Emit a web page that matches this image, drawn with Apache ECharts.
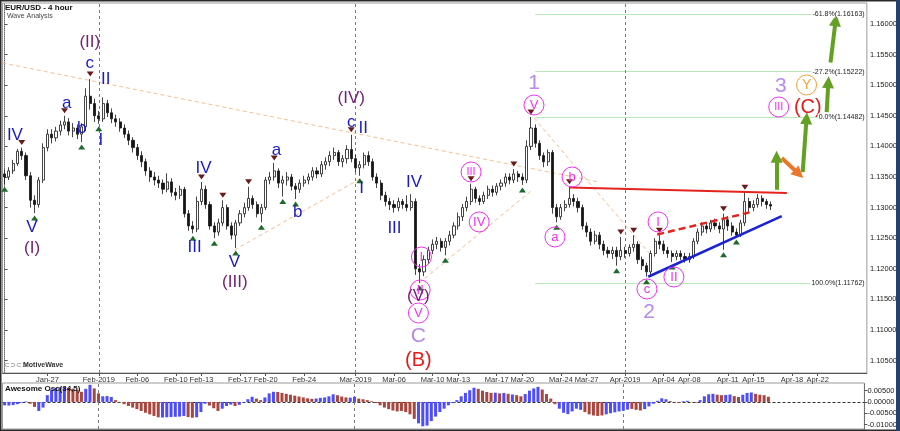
<!DOCTYPE html>
<html><head><meta charset="utf-8">
<script src="https://cdn.jsdelivr.net/npm/echarts@6/dist/echarts.min.js"></script>
<style>html,body{margin:0;padding:0;background:#fff}#c{width:900px;height:431px}</style>
</head><body><div id="c"></div>
<script>
// ---------- DATA ----------
const tradingDays = ['Jan-23','Jan-24','Jan-25','Jan-28','Jan-29','Jan-30','Jan-31','Feb-01','Feb-04','Feb-05','Feb-06','Feb-07','Feb-08','Feb-11','Feb-12','Feb-13','Feb-14','Feb-15','Feb-18','Feb-19','Feb-20','Feb-21','Feb-22','Feb-25','Feb-26','Feb-27','Feb-28','Mar-01','Mar-04','Mar-05','Mar-06','Mar-07','Mar-08','Mar-11','Mar-12','Mar-13','Mar-14','Mar-15','Mar-18','Mar-19','Mar-20','Mar-21','Mar-22','Mar-25','Mar-26','Mar-27','Mar-28','Mar-29','Apr-01','Apr-02','Apr-03','Apr-04','Apr-05','Apr-08','Apr-09','Apr-10','Apr-11','Apr-12','Apr-15','Apr-16','Apr-17','Apr-18','Apr-19','Apr-22','Apr-23','Apr-24','Apr-25'];
const sessionHours = ['00:00','08:00','16:00'];
const firstSlot = 'Jan-22 16:00';

const dateTickSlots = ['Jan-28 00:00','Feb-01 00:00','Feb-06 00:00','Feb-11 00:00','Feb-13 00:00','Feb-18 00:00','Feb-20 00:00','Feb-25 00:00','Mar-01 00:00','Mar-06 00:00','Mar-11 00:00','Mar-13 00:00','Mar-18 00:00','Mar-20 00:00','Mar-25 00:00','Mar-27 00:00','Apr-01 00:00','Apr-04 00:00','Apr-08 00:00','Apr-11 00:00','Apr-15 00:00','Apr-18 00:00','Apr-22 00:00'];
const dateTickTexts = ['Jan-27','Feb-2019','Feb-06','Feb-10','Feb-13','Feb-17','Feb-20','Feb-24','Mar-2019','Mar-06','Mar-10','Mar-13','Mar-17','Mar-20','Mar-24','Mar-27','Apr-2019','Apr-04','Apr-08','Apr-11','Apr-15','Apr-18','Apr-22'];
const monthStartSlots = ['Feb-01 00:00','Mar-01 00:00','Apr-01 00:00'];

const priceTicks = [1.105,1.11,1.115,1.12,1.125,1.13,1.135,1.14,1.145,1.15,1.155,1.16];
const aoTicks = [0.005,0,-0.005,-0.01];

// 8-hour candles: [open, close, low, high]
const ohlc = [
[1.1355,1.1350,1.1338,1.1362],[1.1350,1.1360,1.1345,1.1366],[1.1360,1.1372,1.1355,1.1378],[1.1372,1.1392,1.1368,1.1396],[1.1392,1.1385,1.1378,1.1398],
[1.1385,1.1352,1.1345,1.1390],[1.1352,1.1312,1.1300,1.1358],[1.1312,1.1305,1.1291,1.1320],[1.1305,1.1345,1.1300,1.1350],[1.1345,1.1398,1.1340,1.1405],
[1.1398,1.1420,1.1392,1.1428],[1.1420,1.1414,1.1405,1.1428],[1.1414,1.1425,1.1408,1.1432],[1.1425,1.1435,1.1418,1.1442],[1.1435,1.1440,1.1428,1.1450],
[1.1440,1.1425,1.1418,1.1446],[1.1425,1.1430,1.1415,1.1438],[1.1430,1.1420,1.1412,1.1436],[1.1420,1.1432,1.1407,1.1438],[1.1432,1.1482,1.1425,1.1495],
[1.1482,1.1470,1.1460,1.1510],[1.1470,1.1450,1.1440,1.1478],[1.1450,1.1445,1.1437,1.1458],[1.1445,1.1470,1.1440,1.1480],[1.1470,1.1455,1.1448,1.1476],
[1.1455,1.1445,1.1438,1.1462],[1.1445,1.1440,1.1432,1.1452],[1.1440,1.1430,1.1424,1.1446],[1.1430,1.1420,1.1414,1.1436],[1.1420,1.1410,1.1402,1.1426],
[1.1410,1.1398,1.1390,1.1415],[1.1398,1.1385,1.1378,1.1404],[1.1385,1.1375,1.1366,1.1392],[1.1375,1.1360,1.1352,1.1380],[1.1360,1.1350,1.1342,1.1366],
[1.1350,1.1345,1.1336,1.1358],[1.1345,1.1340,1.1332,1.1352],[1.1340,1.1330,1.1322,1.1346],[1.1330,1.1342,1.1325,1.1356],[1.1342,1.1325,1.1318,1.1348],
[1.1325,1.1320,1.1312,1.1332],[1.1320,1.1330,1.1314,1.1336],[1.1330,1.1290,1.1284,1.1334],[1.1290,1.1270,1.1262,1.1296],[1.1270,1.1265,1.1258,1.1278],
[1.1265,1.1310,1.1260,1.1318],[1.1310,1.1330,1.1304,1.1342],[1.1330,1.1305,1.1298,1.1336],[1.1305,1.1270,1.1264,1.1310],[1.1270,1.1260,1.1250,1.1276],
[1.1260,1.1275,1.1254,1.1282],[1.1275,1.1300,1.1270,1.1312],[1.1300,1.1270,1.1264,1.1305],[1.1270,1.1255,1.1248,1.1276],[1.1255,1.1275,1.1234,1.1280],
[1.1275,1.1290,1.1270,1.1296],[1.1290,1.1300,1.1284,1.1308],[1.1300,1.1315,1.1295,1.1334],[1.1315,1.1305,1.1298,1.1320],[1.1305,1.1290,1.1284,1.1310],
[1.1290,1.1300,1.1276,1.1306],[1.1300,1.1345,1.1296,1.1350],[1.1345,1.1350,1.1338,1.1358],[1.1350,1.1360,1.1344,1.1373],[1.1360,1.1340,1.1332,1.1364],
[1.1340,1.1345,1.1318,1.1352],[1.1345,1.1350,1.1336,1.1358],[1.1350,1.1335,1.1328,1.1355],[1.1335,1.1330,1.1314,1.1340],[1.1330,1.1340,1.1324,1.1346],
[1.1340,1.1345,1.1334,1.1352],[1.1345,1.1350,1.1338,1.1356],[1.1350,1.1360,1.1344,1.1366],[1.1360,1.1355,1.1348,1.1366],[1.1355,1.1370,1.1350,1.1376],
[1.1370,1.1375,1.1362,1.1382],[1.1375,1.1385,1.1368,1.1392],[1.1385,1.1390,1.1378,1.1398],[1.1390,1.1375,1.1368,1.1394],[1.1375,1.1380,1.1366,1.1386],
[1.1380,1.1395,1.1372,1.1402],[1.1395,1.1380,1.1374,1.1419],[1.1380,1.1365,1.1358,1.1386],[1.1365,1.1370,1.1352,1.1376],[1.1370,1.1385,1.1364,1.1390],
[1.1385,1.1375,1.1368,1.1392],[1.1375,1.1350,1.1344,1.1380],[1.1350,1.1340,1.1332,1.1356],[1.1340,1.1320,1.1312,1.1345],[1.1320,1.1310,1.1302,1.1326],
[1.1310,1.1305,1.1296,1.1316],[1.1305,1.1300,1.1292,1.1312],[1.1300,1.1310,1.1294,1.1316],[1.1310,1.1305,1.1298,1.1314],[1.1305,1.1300,1.1294,1.1320],
[1.1300,1.1310,1.1295,1.1322],[1.1310,1.1200,1.1190,1.1315],[1.1200,1.1195,1.1177,1.1208],[1.1195,1.1215,1.1188,1.1222],[1.1215,1.1230,1.1208,1.1236],
[1.1230,1.1240,1.1224,1.1248],[1.1240,1.1245,1.1232,1.1252],[1.1245,1.1235,1.1228,1.1250],[1.1235,1.1245,1.1222,1.1250],[1.1245,1.1255,1.1238,1.1262],
[1.1255,1.1270,1.1250,1.1276],[1.1270,1.1285,1.1264,1.1292],[1.1285,1.1300,1.1278,1.1306],[1.1300,1.1310,1.1294,1.1318],[1.1310,1.1330,1.1304,1.1339],
[1.1330,1.1315,1.1308,1.1334],[1.1315,1.1310,1.1304,1.1320],[1.1310,1.1320,1.1306,1.1326],[1.1320,1.1330,1.1314,1.1336],[1.1330,1.1325,1.1318,1.1336],
[1.1325,1.1335,1.1320,1.1340],[1.1335,1.1340,1.1328,1.1346],[1.1340,1.1350,1.1334,1.1356],[1.1350,1.1345,1.1338,1.1356],[1.1345,1.1355,1.1340,1.1363],
[1.1355,1.1350,1.1342,1.1360],[1.1350,1.1345,1.1337,1.1356],[1.1345,1.1400,1.1340,1.1410],[1.1400,1.1430,1.1394,1.1448],[1.1430,1.1405,1.1398,1.1436],
[1.1405,1.1385,1.1378,1.1410],[1.1385,1.1375,1.1366,1.1390],[1.1375,1.1390,1.1368,1.1395],[1.1390,1.1300,1.1290,1.1394],[1.1300,1.1285,1.1276,1.1306],
[1.1285,1.1300,1.1280,1.1306],[1.1300,1.1305,1.1294,1.1312],[1.1305,1.1315,1.1300,1.1334],[1.1315,1.1310,1.1302,1.1322],[1.1310,1.1300,1.1292,1.1316],
[1.1300,1.1270,1.1264,1.1305],[1.1270,1.1260,1.1252,1.1276],[1.1260,1.1245,1.1238,1.1266],[1.1245,1.1255,1.1240,1.1262],[1.1255,1.1240,1.1232,1.1260],
[1.1240,1.1230,1.1222,1.1246],[1.1230,1.1225,1.1218,1.1236],[1.1225,1.1230,1.1216,1.1236],[1.1230,1.1220,1.1205,1.1236],[1.1220,1.1230,1.1214,1.1252],
[1.1230,1.1225,1.1218,1.1236],[1.1225,1.1235,1.1220,1.1240],[1.1235,1.1240,1.1228,1.1255],[1.1240,1.1215,1.1208,1.1245],[1.1215,1.1205,1.1198,1.1220],
[1.1205,1.1195,1.1187,1.1210],[1.1195,1.1225,1.1190,1.1230],[1.1225,1.1245,1.1220,1.1250],[1.1245,1.1240,1.1232,1.1255],[1.1240,1.1230,1.1224,1.1246],
[1.1230,1.1225,1.1218,1.1236],[1.1225,1.1220,1.1211,1.1230],[1.1220,1.1225,1.1214,1.1230],[1.1225,1.1220,1.1214,1.1230],[1.1220,1.1215,1.1210,1.1226],
[1.1215,1.1220,1.1210,1.1226],[1.1220,1.1245,1.1216,1.1250],[1.1245,1.1260,1.1240,1.1266],[1.1260,1.1270,1.1254,1.1276],[1.1270,1.1265,1.1258,1.1276],
[1.1265,1.1275,1.1260,1.1280],[1.1275,1.1270,1.1264,1.1282],[1.1270,1.1265,1.1258,1.1276],[1.1265,1.1280,1.1231,1.1290],[1.1280,1.1270,1.1262,1.1286],
[1.1270,1.1260,1.1254,1.1276],[1.1260,1.1255,1.1252,1.1266],[1.1255,1.1275,1.1252,1.1280],[1.1275,1.1310,1.1270,1.1325],[1.1310,1.1300,1.1292,1.1316],
[1.1300,1.1305,1.1294,1.1312],[1.1305,1.1315,1.1300,1.1322],[1.1315,1.1310,1.1302,1.1320],[1.1310,1.1305,1.1298,1.1314],[1.1305,1.13025,1.1296,1.1310]
];

// Awesome Oscillator (34,5), one value per 8-hour slot
const aoValues = [
-0.0015,-0.0016,-0.0014,-0.0010,-0.0003,0.0002,-0.0008,-0.0022,-0.0040,-0.0025,
0.0030,0.0055,0.0062,0.0065,0.0067,0.0062,0.0059,0.0054,0.0045,0.0058,
0.0076,0.0060,0.0038,0.0025,0.0026,0.0022,0.0008,-0.0002,-0.0010,-0.0018,
-0.0025,-0.0032,-0.0040,-0.0048,-0.0055,-0.0062,-0.0068,-0.0069,-0.0068,-0.0067,
-0.0066,-0.0065,-0.0062,-0.0067,-0.0070,-0.0068,-0.0045,-0.0008,-0.0016,-0.0028,
-0.0040,-0.0030,-0.0018,-0.0012,-0.0018,-0.0013,-0.0002,0.0012,0.0023,0.0015,
0.0008,0.0020,0.0038,0.0045,0.0044,0.0040,0.0036,0.0032,0.0028,0.0024,
0.0020,0.0016,0.0014,0.0015,0.0018,0.0020,0.0025,0.0034,0.0030,0.0024,
0.0020,0.0019,0.0023,0.0015,0.0012,0.0008,0.0003,-0.0005,-0.0015,-0.0025,
-0.0032,-0.0038,-0.0042,-0.0040,-0.0045,-0.0055,-0.0075,-0.0095,-0.0108,-0.0105,
-0.0085,-0.0065,-0.0045,-0.0030,-0.0015,-0.0005,0.0008,0.0025,0.0040,0.0052,
0.0063,0.0058,0.0050,0.0044,0.0040,0.0041,0.0038,0.0040,0.0036,0.0033,
0.0030,0.0025,0.0035,0.0050,0.0060,0.0067,0.0055,0.0035,0.0015,-0.0010,
-0.0030,-0.0048,-0.0054,-0.0042,-0.0030,-0.0035,-0.0045,-0.0055,-0.0060,-0.0062,
-0.0060,-0.0055,-0.0050,-0.0046,-0.0042,-0.0039,-0.0034,-0.0031,-0.0035,-0.0038,
-0.0032,-0.0020,-0.0008,0.0005,0.0016,0.0012,0.0004,-0.0002,-0.0004,0.0003,
0.0005,-0.0001,-0.0003,0.0008,0.0025,0.0034,0.0036,0.0032,0.0030,0.0031,
0.0033,0.0026,0.0022,0.0032,0.0040,0.0042,0.0036,0.0032,0.0030,0.0023
];
// bar colour per slot as seen in the picture: b = blue, r = brown-red
const aoColorCodes = 'bbbbbb'+'rr'+'bb'+'bbbbb'+'rrrr'+'bb'+'rr'+'bbb'+'rrrrrrrrrrr'+'bbbbbb'+'rr'+'bbb'+'rrr'+'bbb'+'r'+'bbbb'+'rr'+'bbb'+'rrrrrrrrr'+'bbbbb'+'rrr'+'bb'+'rrrrrrrrrrrrrr'+'bbbbbbbbbbbbbb'+'rrrr'+'brbrbrr'+'bbbb'+'rrrr'+'bbbbbb'+'rrrrr'+'bbbbbb'+'rrr'+'bbbbbb'+'rrr'+'bb'+'rr'+'bbbb'+'rr'+'bb'+'rr'+'bbb'+'rrrr';

// pivot markers [slot, price]
const pivotHighs = [[4,1.1398],[14,1.1450],[20,1.1510],[46,1.1342],[51,1.1312],[57,1.1334],[63,1.1373],[81,1.1419],[109,1.1339],[119,1.1363],[123,1.1448],[132,1.1334],[144,1.1252],[147,1.1255],[153,1.1255],[168,1.1290],[173,1.1325]];
const pivotLows = [[0,1.1338],[7,1.1291],[18,1.1407],[22,1.1437],[44,1.1258],[49,1.1250],[54,1.1234],[60,1.1276],[65,1.1318],[68,1.1314],[83,1.1352],[97,1.1177],[103,1.1222],[121,1.1337],[129,1.1276],[143,1.1205],[150,1.1187],[156,1.1211],[168,1.1231],[171,1.1252]];

// wave labels [slot position, price, text]
const purpleLabels = [[19.9,1.15706,'(II)'],[6.4,1.1234,'(I)'],[53.8,1.11784,'(III)'],[81.0,1.14791,'(IV)'],[96.7,1.11557,'(V)']];
const blueLabels = [[2.4,1.14186,'IV'],[6.4,1.12683,'V'],[14.5,1.14709,'a'],[18.0,1.14301,'b'],[19.9,1.15363,'c'],[23.6,1.15101,'II'],[22.5,1.14105,'I'],[44.4,1.12356,'III'],[46.5,1.13647,'IV'],[53.7,1.12111,'V'],[63.5,1.13941,'a'],[68.5,1.12928,'b'],[81.0,1.14399,'c'],[83.8,1.14301,'II'],[83.4,1.1332,'I'],[91.1,1.12667,'III'],[95.7,1.13418,'IV']];
const lavenderLabels = [[123.7,1.15036,'1'],[96.7,1.10902,'C'],[150.6,1.11294,'2'],[181.4,1.14987,'3']];
const redLabels = [[96.7,1.1051,'(B)'],[187.7,1.14644,'(C)']];
const circledMagenta = [[123.7,1.14676,'V'],[109.0,1.13582,'III'],[110.9,1.12765,'IV'],[97.4,1.12193,'I'],[97.1,1.11654,'II'],[96.7,1.11278,'V'],[128.6,1.1252,'a'],[132.6,1.135,'b'],[152.7,1.12765,'I'],[156.4,1.11866,'II'],[150.1,1.1167,'c'],[180.9,1.14644,'III']];
const circledOrange = [[187.4,1.15003,'Y']];

// drawn trend lines [[slot,price],[slot,price]]
const resistanceLine = [[132,1.1333],[182.8,1.1324]];
const dashedRedLine = [[152.5,1.1256],[174.6,1.1293]];
const supportLine = [[150.4,1.1187],[181.6,1.1286]];
const faintLines = [[[-0.5,1.15363],[138.9,1.13418]],[[53.7,1.12307],[83.4,1.13484]],[[96.9,1.11768],[123.3,1.13288]],[[123.7,1.14464],[150.6,1.12258]]];
const greenArrows = [[[180.4,1.1329],[180.4,1.1383]],[[186.5,1.1358],[187.4,1.1446]],[[192.1,1.1456],[192.5,1.1505]],[[193.0,1.1537],[194.2,1.1606]]];
const orangeArrows = [[[181.6,1.1381],[185.6,1.1355]]];

// Fibonacci levels
const fibLevels = [1.16163,1.15222,1.14482,1.11762];
const fibTexts = ['-61.8%(1.16163)','-27.2%(1.15222)','0.0%(1.14482)','100.0%(1.11762)'];
const fibStartSlot = 124;

// value tags on the price axis
const priceTags = [1.13025,1.12941,1.12780];
const aoTag = 0.00229;

// ---------- BUILD ----------
const categories = [firstSlot];
tradingDays.forEach(d => sessionHours.forEach(h => categories.push(d + ' ' + h)));
const N = categories.length;
const tickMap = {};
dateTickSlots.forEach((s, i) => { tickMap[s] = dateTickTexts[i]; });
const isTick = (idx, val) => tickMap[val] !== undefined;
const FF = 'Liberation Sans, Arial, sans-serif';
const BLUE_AO = '#4d4dff', RED_AO = '#a9473f';

function textSeries(list, color, size, extra) {
  const circ = extra && extra.circle;
  return {
    type: 'scatter', xAxisIndex: 1, yAxisIndex: 0, silent: true, z: 20, clip: false,
    symbolSize: circ ? 20 : 0,
    itemStyle: circ ? {color: 'rgba(255,255,255,0)', borderColor: color, borderWidth: 1, opacity: 1} : {color: 'rgba(0,0,0,0)', opacity: 1},
    data: list.map(d => ({value: [d[0], d[1]], label: {show: true, formatter: d[2], position: 'inside', color: color, opacity: 1, fontSize: (circ && d[2].length > 2) ? 11 : size, fontFamily: FF}}))
  };
}

const option = {
  animation: false,
  backgroundColor: '#ffffff',
  grid: [
    {left: 2.5, right: 32, top: 3, height: 370, show: true, borderColor: '#9a9a9a', borderWidth: 1, backgroundColor: '#fff'},
    {left: 2.5, right: 32, top: 383, height: 46, show: true, borderColor: '#9a9a9a', borderWidth: 1, backgroundColor: '#fff'}
  ],
  xAxis: [
    {type: 'category', gridIndex: 0, data: categories, boundaryGap: true,
     axisLine: {show: true, lineStyle: {color: '#555'}},
     axisTick: {show: true, alignWithLabel: true, interval: isTick, length: 3, lineStyle: {color: '#555'}},
     axisLabel: {show: true, interval: isTick, formatter: v => tickMap[v] || '', fontSize: 7.5, color: '#333', margin: 3, fontFamily: FF},
     splitLine: {show: false}},
    {type: 'value', gridIndex: 0, min: -0.5, max: N - 0.5, show: false},
    {type: 'category', gridIndex: 1, data: categories, boundaryGap: true, show: false}
  ],
  yAxis: [
    {type: 'value', gridIndex: 0, position: 'right', min: 1.102974, max: 1.163431,
     splitLine: {show: false},
     axisLine: {show: true, lineStyle: {color: '#666', type: 'dotted'}},
     axisTick: {show: true, customValues: priceTicks, length: 3, lineStyle: {color: '#555'}},
     axisLabel: {show: true, customValues: priceTicks, formatter: v => v.toFixed(5), fontSize: 7.5, color: '#222', margin: 3, fontFamily: FF}},
    {type: 'value', gridIndex: 1, position: 'right', min: -0.012, max: 0.0084,
     splitLine: {show: false},
     axisLine: {show: true, lineStyle: {color: '#666', type: 'dotted'}},
     axisTick: {show: true, customValues: aoTicks, length: 3, lineStyle: {color: '#555'}},
     axisLabel: {show: true, customValues: aoTicks, formatter: v => v.toFixed(5), fontSize: 7.5, color: '#222', margin: 3, fontFamily: FF}}
  ],
  series: [
    {type: 'candlestick', xAxisIndex: 0, yAxisIndex: 0, data: ohlc, barWidth: 2.6, z: 5,
     itemStyle: {color: '#ffffff', color0: '#151515', borderColor: '#151515', borderColor0: '#151515', borderWidth: 0.8},
     markLine: {silent: true, symbol: 'none', animation: false,
       data: monthStartSlots.map(s => ({xAxis: s, lineStyle: {color: '#7a7a7a', type: [3, 3], width: 1, opacity: 1}, label: {show: false}}))
         .concat(priceTags.map((v, i) => ({yAxis: v, lineStyle: {opacity: 0}, label: {show: true, position: 'end', distance: 1, formatter: v.toFixed(5), fontSize: 7.5, fontFamily: FF, color: i === 0 ? '#1a1a6a' : '#111', backgroundColor: i === 0 ? '#b9bff0' : '#ffffff', borderColor: '#444', borderWidth: 0.8, borderRadius: 3, padding: [1, 2]}})))
     }},
    {type: 'lines', coordinateSystem: 'cartesian2d', xAxisIndex: 1, yAxisIndex: 0, silent: true, z: 3,
     data: faintLines.map(l => ({coords: l, lineStyle: {color: '#f3b985', width: 1, type: [4, 3], opacity: 0.9}}))},
    {type: 'scatter', xAxisIndex: 0, yAxisIndex: 0, silent: true, z: 8, symbol: 'triangle', symbolRotate: 180, symbolSize: [7, 5], symbolOffset: [0, -5],
     itemStyle: {color: '#6a1a1a', opacity: 1}, data: pivotHighs},
    {type: 'scatter', xAxisIndex: 0, yAxisIndex: 0, silent: true, z: 8, symbol: 'triangle', symbolSize: [7, 5], symbolOffset: [0, 5],
     itemStyle: {color: '#1d6b2a', opacity: 1}, data: pivotLows},
    {type: 'lines', coordinateSystem: 'cartesian2d', xAxisIndex: 1, yAxisIndex: 0, silent: true, z: 4,
     data: fibLevels.map(v => ({coords: [[fibStartSlot, v], [N - 0.5, v]], lineStyle: {color: '#b9e8b9', width: 1, opacity: 1}}))},
    {type: 'scatter', xAxisIndex: 1, yAxisIndex: 0, silent: true, z: 21, symbolSize: 0, clip: false,
     itemStyle: {opacity: 1},
     data: fibLevels.map((v, i) => ({value: [N - 0.8, v], label: {show: true, position: 'left', distance: 0, formatter: fibTexts[i], fontSize: 7, fontFamily: FF, color: '#222', backgroundColor: '#ffffff', padding: [0, 1]}}))},
    {type: 'lines', coordinateSystem: 'cartesian2d', xAxisIndex: 1, yAxisIndex: 0, silent: true, z: 12,
     data: [
       {coords: resistanceLine, lineStyle: {color: '#e5231d', width: 2, opacity: 1}},
       {coords: dashedRedLine, lineStyle: {color: '#e5231d', width: 2.5, type: [7, 4], opacity: 1}},
       {coords: supportLine, lineStyle: {color: '#1b22d6', width: 2.5, opacity: 1}}
     ]},
    {type: 'lines', coordinateSystem: 'cartesian2d', xAxisIndex: 1, yAxisIndex: 0, silent: true, z: 12,
     symbol: ['none', 'triangle'], symbolSize: [11, 12],
     data: greenArrows.map(l => ({coords: l, lineStyle: {color: '#64a022', width: 4, opacity: 1}}))
       .concat(orangeArrows.map(l => ({coords: l, lineStyle: {color: '#e9782a', width: 4, opacity: 1}})))},
    textSeries(circledMagenta, '#ee33ee', 13, {circle: true}),
    textSeries(circledOrange, '#f2a23a', 14, {circle: true}),
    textSeries(purpleLabels, '#742274', 17),
    textSeries(blueLabels, '#1b1bc4', 17),
    textSeries(lavenderLabels, '#b58be6', 21),
    textSeries(redLabels, '#e21b1b', 20),
    {type: 'bar', xAxisIndex: 2, yAxisIndex: 1, barWidth: 3, silent: true, z: 5,
     data: aoValues.map((v, i) => ({value: v, itemStyle: {color: aoColorCodes[i] === 'b' ? BLUE_AO : RED_AO}})),
     markLine: {silent: true, symbol: 'none', animation: false,
       data: [{yAxis: 0, lineStyle: {color: '#333', type: [3, 2], width: 1, opacity: 1}, label: {show: false}}]
         .concat(monthStartSlots.map(s => ({xAxis: s, lineStyle: {color: '#7a7a7a', type: [3, 3], width: 1, opacity: 1}, label: {show: false}})))
         .concat([{yAxis: aoTag, lineStyle: {opacity: 0}, label: {show: true, position: 'end', distance: 1, formatter: aoTag.toFixed(5), fontSize: 7.5, fontFamily: FF, color: '#111', backgroundColor: '#ffffff', borderColor: '#444', borderWidth: 0.8, borderRadius: 3, padding: [0, 2]}}])
     }}
  ],
  graphic: [
    {type: 'rect', silent: true, z: 100, shape: {x: 0.5, y: 0.5, width: 898, height: 430}, style: {fill: 'none', stroke: '#2a2a2a', lineWidth: 2}},
    {type: 'rect', silent: true, z: 100, shape: {x: 896, y: 0, width: 4, height: 431}, style: {fill: '#26416e'}},
    {type: 'text', silent: true, z: 100, left: 5, top: 4, style: {text: 'EUR/USD - 4 hour', font: 'bold 8px ' + FF, fill: '#111'}},
    {type: 'text', silent: true, z: 100, left: 7, top: 13, style: {text: 'Wave Analysis', font: '7px ' + FF, fill: '#444'}},
    {type: 'text', silent: true, z: 100, left: 4, top: 362, style: {text: '⊂⊃⊂⊃', font: '7px ' + FF, fill: '#777'}},
    {type: 'text', silent: true, z: 100, left: 23, top: 362, style: {text: 'MotiveWave', font: 'bold 7px ' + FF, fill: '#333'}},
    {type: 'text', silent: true, z: 100, left: 5, top: 385, style: {text: 'Awesome Osc(34,5)', font: 'bold 8px ' + FF, fill: '#111'}}
  ]
};

const chart = echarts.init(document.getElementById('c'), null, {renderer: 'canvas'});
chart.setOption(option);
</script>
</body></html>
